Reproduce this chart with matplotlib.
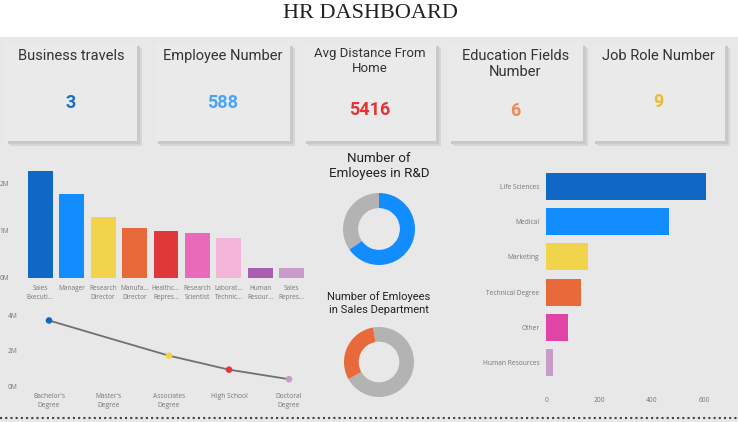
import matplotlib
matplotlib.use("Agg")
import matplotlib.pyplot as plt
from matplotlib.patches import Rectangle
from matplotlib.lines import Line2D

# ---------------- data ----------------
card_titles = ["Business travels", "Employee Number", "Avg Distance From\nHome",
               "Education Fields\nNumber", "Job Role Number"]
card_values = ["3", "588", "5416", "6", "9"]
card_colors = ["#1a6dc2", "#4aa3f5", "#e03535", "#ee8a55", "#e6be2c"]

job_roles = ["Sales\nExecuti...", "Manager", "Research\nDirector", "Manufa...\nDirector",
             "Healthc...\nRepres...", "Research\nScientist", "Laborat...\nTechnic...",
             "Human\nResour...", "Sales\nRepres..."]
job_income = [2.25e6, 1.76e6, 1.28e6, 1.05e6, 0.98e6, 0.94e6, 0.84e6, 0.21e6, 0.21e6]
job_colors = ["#1168c4", "#118dff", "#f2d34c", "#e8693a", "#e03838", "#e86ab8",
              "#f4b6d8", "#a85fb0", "#c99bcb"]

edu_levels = ["Bachelor's\nDegree", "Master's\nDegree", "Associates\nDegree",
              "High School", "Doctoral\nDegree"]
edu_income = [3.72e6, 2.72e6, 1.73e6, 0.94e6, 0.40e6]
edu_marker_colors = ["#1168c4", "none", "#f2d34c", "#e03838", "#c99bcb"]

rd_values = [961, 509]          # R&D, others
rd_colors = ["#118dff", "#b3b3b3"]
sales_values = [1024, 446]      # others, Sales
sales_colors = ["#b3b3b3", "#e8693a"]

fields = ["Life Sciences", "Medical", "Marketing", "Technical Degree", "Other", "Human Resources"]
field_counts = [606, 464, 159, 132, 82, 27]
field_colors = ["#1168c4", "#118dff", "#f2d34c", "#e8693a", "#e044a7", "#c99bcb"]

# ---------------- fonts ----------------
head = "Roboto"
tick_font = "Open Sans"
serif = "Liberation Serif"

W, H = 738, 422
BG = "#e9e8e8"
fig = plt.figure(figsize=(W / 100, H / 100), dpi=100)
fig.patch.set_facecolor(BG)

def fx(x): return x / W
def fy(y): return 1 - y / H
def axes_px(x0, y0, x1, y1):
    return fig.add_axes([fx(x0), fy(y1), (x1 - x0) / W, (y1 - y0) / H])

# white title band
fig.patches.append(Rectangle((0, fy(37)), 1, 37 / H, transform=fig.transFigure,
                             facecolor="white", edgecolor="none", zorder=0))
fig.text(fx(370), fy(14), "HR DASHBOARD", ha="center", va="center",
         family=serif, fontsize=16, color="#222222")

# cards
cards_x = [(5, 137), (155, 290), (303, 436), (448, 583), (592, 725)]
card_top, card_bot = 43, 141
title_y = [56, 56, 61, 64, 56]
title_size = [10.5, 10.5, 9.5, 10.5, 10.5]
value_y = [103, 103, 110, 111, 102]
for i, (x0, x1) in enumerate(cards_x):
    for off, col in [(5, "#d6d6d6"), (3, "#c9c9c9")]:
        fig.patches.append(Rectangle((fx(x0 + off), fy(card_bot + off)), (x1 - x0) / W,
                                     (card_bot - card_top) / H, transform=fig.transFigure,
                                     facecolor=col, edgecolor="none", zorder=1))
    fig.patches.append(Rectangle((fx(x0), fy(card_bot)), (x1 - x0) / W,
                                 (card_bot - card_top) / H, transform=fig.transFigure,
                                 facecolor="#ebeaea", edgecolor="none", zorder=2))
    cx = (x0 + x1) / 2
    fig.text(fx(cx), fy(title_y[i]), card_titles[i], ha="center", va="center",
             family=head, fontsize=title_size[i], color="#333333", linespacing=1.15, zorder=3)
    fig.text(fx(cx), fy(value_y[i]), card_values[i], ha="center", va="center",
             family=head, fontsize=13, fontweight="bold", color=card_colors[i], zorder=3)

def style(ax):
    ax.set_facecolor("none")
    for s in ax.spines.values():
        s.set_visible(False)
    ax.tick_params(length=0, colors="#777777", labelsize=4.8)
    ax.tick_params(axis="both")

def set_font(ax, size):
    for lab in ax.get_xticklabels() + ax.get_yticklabels():
        lab.set_family(tick_font)
        lab.set_fontsize(size)

# job role bar chart
ax1 = axes_px(23, 165, 309, 278)
style(ax1)
ax1.bar(range(len(job_roles)), job_income, color=job_colors, width=0.79)
ax1.set_xlim(-0.55, len(job_roles) - 0.45)
ax1.set_ylim(0, 2.38e6)
ax1.set_yticks([0, 1e6, 2e6])
ax1.set_yticklabels(["0M", "1M", "2M"])
ax1.tick_params(axis="y", pad=10)
ax1.set_xticks(range(len(job_roles)))
ax1.set_xticklabels(job_roles, linespacing=1.45)
ax1.tick_params(axis="x", pad=5)
set_font(ax1, 4.7)

# education line chart
ax2 = axes_px(22, 310, 319, 390)
style(ax2)
xs = list(range(len(edu_levels)))
ax2.plot(xs, edu_income, color="#707070", lw=1.3, zorder=2)
ax2.scatter(xs, edu_income, c=edu_marker_colors, s=14, zorder=3)
ax2.set_xlim(-0.45, len(edu_levels) - 0.5)
ax2.set_ylim(-0.21e6, 4.31e6)
ax2.set_yticks([0, 2e6, 4e6])
ax2.set_yticklabels(["0M", "2M", "4M"])
ax2.tick_params(axis="y", pad=3)
ax2.set_xticks(xs)
ax2.set_xticklabels(edu_levels, linespacing=1.45)
ax2.tick_params(axis="x", pad=2)
set_font(ax2, 4.8)

# donuts
fig.text(fx(379), fy(166), "Number of\nEmloyees in R&D", ha="center", va="center",
         family=head, fontsize=9.6, color="#222222", linespacing=1.15)
ax3 = axes_px(343, 193, 415, 265)
ax3.pie(rd_values, colors=rd_colors, startangle=90, counterclock=False, radius=1,
        wedgeprops=dict(width=0.42, edgecolor="none"))
ax3.set_xlim(-1, 1)
ax3.set_ylim(-1, 1)
ax3.set_aspect("equal")

fig.text(fx(379), fy(303), "Number of Emloyees\nin Sales Department", ha="center", va="center",
         family=head, fontsize=8, color="#222222", linespacing=1.3)
ax4 = axes_px(344, 327, 414, 397)
ax4.pie(sales_values, colors=sales_colors, startangle=100, counterclock=False, radius=1,
        wedgeprops=dict(width=0.42, edgecolor="none"))
ax4.set_xlim(-1, 1)
ax4.set_ylim(-1, 1)
ax4.set_aspect("equal")

# education field horizontal bars
ax5 = axes_px(546.3, 169, 725, 380)
style(ax5)
ys = list(range(len(fields)))
ax5.barh(ys, field_counts, color=field_colors, height=0.77)
ax5.set_ylim(len(fields) - 0.5, -0.5)
ax5.set_xlim(0, 678)
ax5.set_xticks([0, 200, 400, 600])
ax5.set_yticks(ys)
ax5.set_yticklabels(fields)
ax5.tick_params(axis="y", pad=5)
ax5.tick_params(axis="x", pad=12)
set_font(ax5, 4.8)

# dotted bottom line
fig.add_artist(Line2D([0, 1], [fy(418), fy(418)], transform=fig.transFigure,
                      color="#444444", lw=1.5, linestyle=(0, (1, 1.5))))

fig.savefig("out.png", dpi=100, facecolor=fig.get_facecolor())
